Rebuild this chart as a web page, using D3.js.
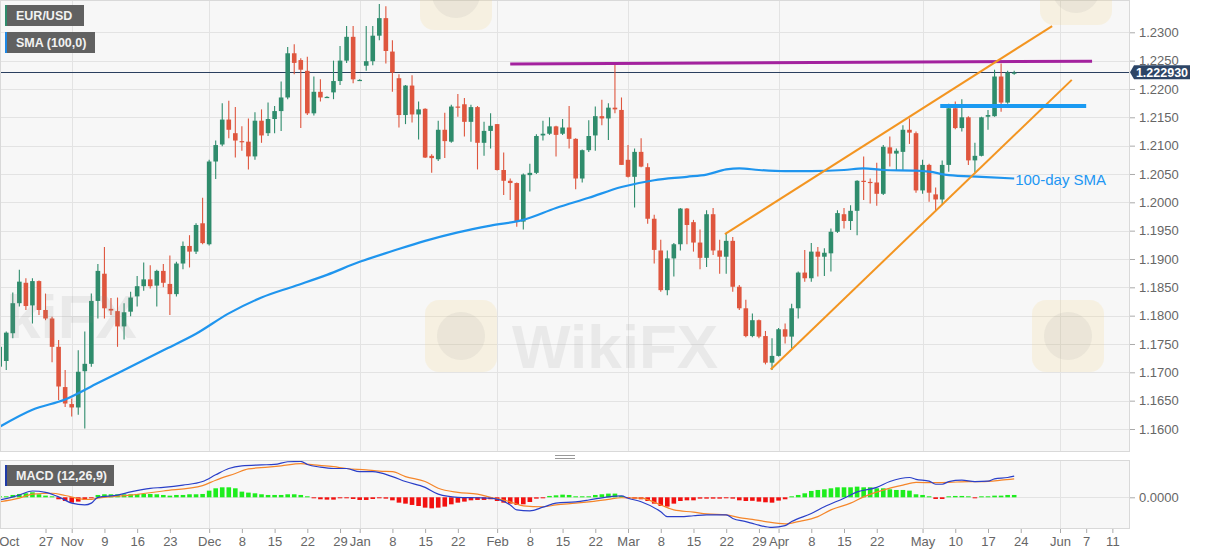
<!DOCTYPE html>
<html><head><meta charset="utf-8">
<script src="https://cdn.jsdelivr.net/npm/d3@7"></script>
<style>
body{margin:0;background:#fff;}
svg{display:block;font-family:"Liberation Sans",Arial,sans-serif;}
</style>
</head><body>
<svg id="c" width="1207" height="555"></svg>
<script>
// ---------------- DATA ----------------
// trading-day index of the first candle (0 = 2 Nov 2020)
const firstDay = -11;
// [open, high, low, close] per trading day
const ohlc = [
[1.1710,1.1748,1.1695,1.1745],[1.1720,1.1772,1.1704,1.1770],[1.1769,1.1841,1.1760,1.1822],[1.1822,1.1881,1.1816,1.1860],
[1.1858,1.1866,1.1810,1.1817],[1.1818,1.1866,1.1786,1.1861],[1.1861,1.1862,1.1801,1.1810],[1.1810,1.1839,1.1792,1.1795],
[1.1795,1.1798,1.1718,1.1745],[1.1745,1.1757,1.1651,1.1675],[1.1674,1.1704,1.1639,1.1645],
[1.1644,1.1654,1.1622,1.1638],[1.1638,1.1739,1.1625,1.1701],[1.1702,1.1772,1.1601,1.1715],[1.1715,1.1839,1.1710,1.1826],
[1.1826,1.1891,1.1795,1.1879],[1.1874,1.1921,1.1795,1.1813],[1.1812,1.1831,1.1801,1.1809],[1.1808,1.1832,1.1745,1.1781],
[1.1781,1.1822,1.1758,1.1806],[1.1807,1.1842,1.1799,1.1832],[1.1834,1.1870,1.1816,1.1852],[1.1852,1.1894,1.1844,1.1864],
[1.1864,1.1889,1.1848,1.1852],[1.1853,1.1881,1.1816,1.1879],[1.1879,1.1891,1.1850,1.1858],[1.1856,1.1906,1.1801,1.1838],
[1.1838,1.1895,1.1834,1.1892],[1.1892,1.1931,1.1882,1.1923],[1.1923,1.1942,1.1885,1.1913],[1.1913,1.1963,1.1909,1.1960],
[1.1963,1.2008,1.1926,1.1928],[1.1926,1.2075,1.1924,1.2072],[1.2072,1.2109,1.2041,1.2101],[1.2102,1.2175,1.2099,1.2146],
[1.2146,1.2179,1.2113,1.2128],[1.2122,1.2168,1.2079,1.2109],[1.2108,1.2134,1.2091,1.2106],[1.2107,1.2148,1.2058,1.2081],
[1.2081,1.2159,1.2075,1.2144],[1.2144,1.2164,1.2105,1.2118],[1.2122,1.2176,1.2117,1.2147],[1.2147,1.2170,1.2122,1.2161],
[1.2161,1.2213,1.2126,1.2185],[1.2185,1.2274,1.2182,1.2263],[1.2263,1.2279,1.2226,1.2246],[1.2251,1.2254,1.2131,1.2234],
[1.2232,1.2257,1.2154,1.2157],[1.2157,1.2222,1.2153,1.2195],[1.2195,1.2217,1.2178,1.2185],[1.2185,1.2187,1.2185,1.2186],
[1.2194,1.2250,1.2182,1.2214],[1.2214,1.2276,1.2207,1.2250],[1.2250,1.2311,1.2246,1.2292],[1.2292,1.2311,1.2210,1.2217],
[1.2216,1.2217,1.2215,1.2216],[1.2241,1.2311,1.2232,1.2249],[1.2249,1.2311,1.2242,1.2294],[1.2294,1.2350,1.2286,1.2325],
[1.2325,1.2346,1.2245,1.2267],[1.2266,1.2286,1.2195,1.2229],[1.2219,1.2226,1.2132,1.2154],[1.2154,1.2207,1.2138,1.2206],
[1.2206,1.2224,1.2141,1.2155],[1.2155,1.2178,1.2111,1.2164],[1.2165,1.2166,1.2078,1.2079],[1.2082,1.2085,1.2052,1.2078],
[1.2076,1.2144,1.2073,1.2128],[1.2128,1.2158,1.2078,1.2108],[1.2107,1.2172,1.2105,1.2169],[1.2169,1.2191,1.2151,1.2167],
[1.2173,1.2184,1.2116,1.2142],[1.2142,1.2172,1.2107,1.2168],[1.2168,1.2170,1.2058,1.2105],[1.2105,1.2142,1.2082,1.2126],
[1.2126,1.2157,1.2095,1.2135],[1.2138,1.2138,1.2056,1.2057],[1.2057,1.2088,1.2013,1.2038],[1.2038,1.2042,1.2004,1.2034],
[1.2034,1.2035,1.1957,1.1966],[1.1966,1.2051,1.1952,1.2049],[1.2048,1.2068,1.2019,1.2052],[1.2052,1.2120,1.2050,1.2117],
[1.2118,1.2144,1.2109,1.2121],[1.2121,1.2150,1.2119,1.2134],[1.2134,1.2135,1.2081,1.2119],[1.2121,1.2147,1.2119,1.2132],
[1.2132,1.2170,1.2095,1.2112],[1.2112,1.2113,1.2023,1.2042],[1.2042,1.2093,1.2035,1.2092],[1.2092,1.2145,1.2089,1.2117],
[1.2118,1.2169,1.2091,1.2152],[1.2152,1.2181,1.2136,1.2148],[1.2148,1.2175,1.2110,1.2167],[1.2167,1.2244,1.2157,1.2164],
[1.2163,1.2185,1.2066,1.2066],[1.2075,1.2101,1.2044,1.2045],[1.2045,1.2095,1.1991,1.2089],[1.2089,1.2113,1.2062,1.2063],
[1.2062,1.2069,1.1962,1.1971],[1.1971,1.1978,1.1892,1.1916],[1.1915,1.1934,1.1842,1.1845],[1.1845,1.1915,1.1836,1.1901],
[1.1901,1.1928,1.1869,1.1926],[1.1926,1.1990,1.1915,1.1989],[1.1989,1.1990,1.1926,1.1960],[1.1965,1.1969,1.1913,1.1929],
[1.1929,1.1952,1.1882,1.1902],[1.1902,1.1986,1.1886,1.1979],[1.1979,1.1990,1.1907,1.1915],[1.1915,1.1934,1.1874,1.1904],
[1.1904,1.1945,1.1874,1.1932],[1.1932,1.1939,1.1842,1.1851],[1.1851,1.1854,1.1810,1.1813],[1.1813,1.1828,1.1762,1.1764],
[1.1764,1.1804,1.1762,1.1792],[1.1792,1.1793,1.1760,1.1763],[1.1764,1.1773,1.1714,1.1717],[1.1717,1.1760,1.1704,1.1729],
[1.1729,1.1778,1.1728,1.1776],[1.1776,1.1786,1.1751,1.1763],[1.1763,1.1821,1.1742,1.1813],[1.1813,1.1878,1.1795,1.1876],
[1.1876,1.1916,1.1860,1.1866],[1.1866,1.1928,1.1860,1.1913],[1.1913,1.1921,1.1869,1.1904],[1.1904,1.1919,1.1870,1.1911],
[1.1910,1.1954,1.1878,1.1948],[1.1948,1.1986,1.1946,1.1981],[1.1979,1.1990,1.1954,1.1967],[1.1967,1.1995,1.1951,1.1985],
[1.1985,1.2039,1.1942,1.2038],[1.2038,1.2081,1.2004,1.2036],[1.2036,1.2042,1.1998,1.2035],[1.2035,1.2070,1.1994,1.2015],
[1.2015,1.2101,1.2013,1.2098],[1.2097,1.2116,1.2063,1.2086],[1.2086,1.2095,1.2057,1.2091],[1.2089,1.2136,1.2057,1.2128],
[1.2128,1.2148,1.2103,1.2123],[1.2122,1.2125,1.2017,1.2021],[1.2021,1.2075,1.2015,1.2066],[1.2066,1.2068,1.2001,1.2017],
[1.2014,1.2026,1.1986,1.2005],[1.2005,1.2074,1.1997,1.2066],[1.2066,1.2174,1.2054,1.2166],[1.2166,1.2178,1.2129,1.2131],
[1.2131,1.2182,1.2125,1.2150],[1.2150,1.2152,1.2066,1.2074],[1.2074,1.2105,1.2053,1.2082],[1.2082,1.2151,1.2081,1.2150],
[1.2151,1.2163,1.2128,1.2154],[1.2152,1.2234,1.2151,1.2222],[1.2222,1.2245,1.2160,1.2176],[1.2176,1.2232,1.2174,1.2229],
[1.2228,1.2232,1.2225,1.2229]
];
// 100-day SMA, [trading-day index, value]
const sma100 = [
[-11,1.1604],[-6,1.1634],[-1,1.1652],[4,1.1681],[9,1.1710],[14,1.1739],[19,1.1768],[24,1.1804],[29,1.1832],
[34,1.1852],[39,1.1872],[44,1.1895],[49,1.1914],[54,1.1932],[59,1.1947],[64,1.1959],[69,1.1969],[74,1.1990],
[79,1.2008],[84,1.2027],[89,1.2039],[94,1.2045],[97,1.2049],[100,1.2058],[102,1.2060],[105,1.2057],[109,1.2055],
[113,1.2055],[118,1.2057],[121,1.2060],[124,1.2057],[129,1.2056],[131,1.2054],[134,1.2048],[139,1.2045],[144,1.2042]
];
// MACD (12,26,9) in pips (1e-4), [trading-day index, value]
const macdLine = [
[-11,-6],[-8,5],[-6,14],[-4,11],[-2,1],[0,-13],[2,-17],[3,-13],[4,0],[7,5],[9,12],[12,20],[14,22],[17,27],[20,35],
[22,50],[24,64],[26,70],[29,72],[31,73],[33,79],[35,80],[36,73],[38,67],[40,64],[42,64],[44,57],[46,57],[49,46],
[51,35],[54,22],[56,7],[59,0],[62,-1],[64,-2],[67,-17],[68,-28],[70,-30],[72,-22],[74,-13],[77,-10],[79,-6],[82,1],
[84,3],[85,-2],[87,-10],[90,-32],[91,-43],[93,-43],[95,-41],[97,-39],[100,-39],[101,-47],[103,-54],[104,-58],
[105,-62],[107,-67],[109,-63],[110,-54],[113,-36],[115,-21],[118,-2],[120,12],[123,22],[125,35],[128,44],[129,40],
[131,36],[132,29],[133,29],[134,35],[136,38],[138,35],[140,36],[141,41],[143,44],[144,47]
];
const signalLine = [
[-11,-10],[-8,-2],[-6,7],[-3,9],[-1,4],[2,-4.5],[3,-4.5],[4,-2],[9,5],[14,14],[20,26],[22,38],[25,53],[27,63],
[30,67],[32,70],[35,75],[37,72],[40,68],[42,64],[45,61],[47,58],[49,57],[51,46],[54,35],[56,20],[59,11],[62,7],
[64,0],[67,-10],[69,-19],[72,-21],[74,-17],[77,-13],[79,-10],[82,-4.5],[84,-1],[87,-2],[90,-17],[92,-28],[95,-33],
[97,-37],[100,-39],[102,-45],[104,-49],[106,-54],[109,-59],[111,-54],[114,-43],[116,-28],[119,-13],[121,1],[124,16],
[127,27],[129,33],[132,32.5],[134,33],[137,35],[139,35],[142,38],[144,41]
];
// MACD histogram in pips, one value per candle
const macdHist = [
1,1.5,5.2,7.4,8.9,11.1,6.7,3.7,0.7,-4.4,
-8.2,-11.9,-9.6,-5.9,-0.7,5.2,6.7,6.7,6.7,6.7,
6.7,7.4,7.4,7.4,6.7,5.2,3.7,5.2,5.2,6.7,
6.7,7.4,14.8,20,22.2,22.2,20,12.6,10.4,8.9,
6.7,5.2,5.2,5.2,6.7,6.7,5.2,0.3,-0.7,-4.4,
-5.2,-5.2,-2.2,-2.2,-3.7,-5.9,-5.9,-3.7,-2.2,-3,
-6.7,-11.9,-14.1,-17,-19.3,-23,-24.5,-23,-20.7,-15.6,
-11.9,-9.6,-6.7,-5.9,-5.9,-4.4,-8.2,-11.9,-14.1,-17,
-15.6,-10.4,-3,-0.5,3,4.4,5.9,5.2,1.5,1.5,
2.2,5.2,6.7,8.2,8.2,3,-0.3,-3,-4.4,-8.2,
-14.1,-19.3,-20.7,-14.1,-8.2,-6.7,-6.7,-3,-3,-3,
-3,-2.2,-3,-6.7,-8.2,-7.8,-9.6,-11.1,-11.9,-7.4,
-4.4,0.3,5.2,8.9,14.1,16.3,17.8,20,22.2,22.2,
22.2,23.7,22.2,22.2,20,20,17.8,16.3,16.3,14.8,
6.7,5.2,0.3,-3.7,-3.7,1.5,3,3,0.7,-0.7,
0.7,0.7,3.7,3.7,5.2,5.2
];
// annotations, [trading-day index, price]
const wedgeUpper = [[99.8,1.1944],[149.8,1.2311]];
const wedgeLower = [[106.8,1.1705],[152.8,1.2216]];
const resistance = [[67.0,1.2244],[155.9,1.2249]];
const support = [[132.7,1.2170],[155.0,1.2170]];
const lastPrice = 1.222930;
// axis ticks
const priceTicks = [1.16,1.165,1.17,1.175,1.18,1.185,1.19,1.195,1.20,1.205,1.21,1.215,1.22,1.225,1.23];
const dateTickIdx = [-9.6,-4,0,5,10,15,21,26,31,36,41,44,49,54,59,65,70,75,80,85,90,95,100,105,108,113,118,123,130,135,140,145,151,155,159];
const dateTickLbl = ["Oct","27","Nov","9","16","23","Dec","8","15","22","29","Jan","8","15","22","Feb","8","15","22","Mar","8","15","22","29","Apr","8","15","22","May","10","17","24","Jun","7","11"];
const monthStarts = [0,21,44,65,85,108,130,151];
const macdTicks = [0];

// ---------------- LAYOUT ----------------
const svg = d3.select("#c");
const L = 0, R = 1130;
const mainTop = 0, mainBot = 452;
const mTop = 460, mBot = 529;

const x = d3.scaleLinear().domain([0,151]).range([71.7,1060]);
const y = d3.scaleLinear().domain([1.16,1.23]).range([429,32.3]);
const ym = d3.scaleLinear().domain([-70,80]).range([528.8,461.3]);

const GREEN="#2f8c6c", RED="#df563e";

// backgrounds
svg.append("rect").attr("x",0).attr("y",0).attr("width",1207).attr("height",555).attr("fill","#fff");
svg.append("rect").attr("x",L).attr("y",mainTop).attr("width",R-L).attr("height",mainBot-mainTop).attr("fill","#f7f7f7");
svg.append("rect").attr("x",L).attr("y",mTop).attr("width",R-L).attr("height",mBot-mTop).attr("fill","#f7f7f7");

svg.append("clipPath").attr("id","cm").append("rect").attr("x",L).attr("y",mainTop).attr("width",R-L).attr("height",mainBot-mainTop);
svg.append("clipPath").attr("id","cd").append("rect").attr("x",L).attr("y",mTop).attr("width",R-L).attr("height",mBot-mTop);

const gMain = svg.append("g").attr("clip-path","url(#cm)");
const gMacd = svg.append("g").attr("clip-path","url(#cd)");

// grid
gMain.selectAll(".hg").data(priceTicks).enter().append("line")
  .attr("x1",L).attr("x2",R).attr("y1",d=>Math.round(y(d))+0.5).attr("y2",d=>Math.round(y(d))+0.5)
  .attr("stroke","#e3e3e3");
gMain.selectAll(".vg").data(monthStarts).enter().append("line")
  .attr("x1",d=>Math.round(x(d))+0.5).attr("x2",d=>Math.round(x(d))+0.5).attr("y1",mainTop).attr("y2",mainBot)
  .attr("stroke","#e3e3e3");
gMacd.selectAll(".vg").data(monthStarts).enter().append("line")
  .attr("x1",d=>Math.round(x(d))+0.5).attr("x2",d=>Math.round(x(d))+0.5).attr("y1",mTop).attr("y2",mBot)
  .attr("stroke","#e3e3e3");
gMacd.selectAll(".hg").data(macdTicks).enter().append("line")
  .attr("x1",L).attr("x2",R).attr("y1",d=>Math.round(ym(d))+0.5).attr("y2",d=>Math.round(ym(d))+0.5)
  .attr("stroke","#e3e3e3");

// last price line
gMain.append("line").attr("x1",L).attr("x2",R)
  .attr("y1",Math.round(y(lastPrice))+0.5).attr("y2",Math.round(y(lastPrice))+0.5)
  .attr("stroke","#2a3f5f").attr("stroke-width",1);

// candles
const candles = ohlc.map((d,i)=>({i:firstDay+i,o:d[0],h:d[1],l:d[2],c:d[3]}));
const bw = 4.6;
const cg = gMain.selectAll(".cd").data(candles).enter().append("g");
cg.append("line")
  .attr("x1",d=>x(d.i)).attr("x2",d=>x(d.i))
  .attr("y1",d=>y(d.h)).attr("y2",d=>y(d.l))
  .attr("stroke",d=>d.c>=d.o?GREEN:RED).attr("stroke-width",1.1);
cg.append("rect")
  .attr("x",d=>x(d.i)-bw/2).attr("width",bw)
  .attr("y",d=>y(Math.max(d.o,d.c)))
  .attr("height",d=>Math.max(1.2,Math.abs(y(d.o)-y(d.c))))
  .attr("fill",d=>d.c>=d.o?GREEN:RED);

// SMA
const line = d3.line().x(d=>x(d[0])).y(d=>y(d[1])).curve(d3.curveMonotoneX);
gMain.append("path").attr("d",line(sma100)).attr("fill","none").attr("stroke","#1f95ee").attr("stroke-width",2.2);

// annotations
const segs = [
  {d:resistance, c:"#a3229e", w:3},
  {d:wedgeUpper, c:"#f39521", w:2},
  {d:wedgeLower, c:"#f39521", w:2},
  {d:support, c:"#1a9af2", w:4}
];
const sl = d3.line().x(d=>x(d[0])).y(d=>y(d[1]));
segs.forEach(s=>{
  gMain.append("path").attr("d",sl(s.d)).attr("fill","none").attr("stroke",s.c).attr("stroke-width",s.w);
});

svg.append("text").attr("x",x(144)+1).attr("y",y(1.2042)+6)
  .attr("fill","#2196f3").attr("font-size",15).text("100-day SMA");

// MACD histogram
const hist = macdHist.map((v,i)=>({i:firstDay+i,v}));
const hw = 4.6;
gMacd.selectAll(".hb").data(hist).enter().append("rect")
  .attr("x",d=>x(d.i)-hw/2).attr("width",hw)
  .attr("y",d=>d.v>=0?Math.min(ym(d.v),ym(0)-1):ym(0))
  .attr("height",d=>Math.max(1,Math.abs(ym(d.v)-ym(0))))
  .attr("fill",d=>d.v>=0?"#1ded1d":"#f2100f");

const ml = d3.line().x(d=>x(d[0])).y(d=>ym(d[1])).curve(d3.curveMonotoneX);
gMacd.append("path").attr("d",ml(signalLine)).attr("fill","none").attr("stroke","#f5862a").attr("stroke-width",1.2);
gMacd.append("path").attr("d",ml(macdLine)).attr("fill","none").attr("stroke","#2a3fc8").attr("stroke-width",1.2);

// panel borders
svg.append("rect").attr("x",L+0.5).attr("y",mainTop+0.5).attr("width",R-L-1).attr("height",mainBot-mainTop-1)
  .attr("fill","none").attr("stroke","#d9d9d9");
svg.append("rect").attr("x",L+0.5).attr("y",mTop+0.5).attr("width",R-L-1).attr("height",mBot-mTop-1)
  .attr("fill","none").attr("stroke","#d9d9d9");
// separator handle
[455.5,458.5].forEach(v=>svg.append("line").attr("x1",555).attr("x2",575).attr("y1",v).attr("y2",v).attr("stroke","#999").attr("stroke-width",1));

// axes
const ay = d3.axisRight(y).tickValues(priceTicks).tickFormat(d3.format(".4f")).tickSize(5).tickPadding(4);
const gy = svg.append("g").attr("transform",`translate(${R},0)`).call(ay);
const aym = d3.axisRight(ym).tickValues(macdTicks).tickFormat(d3.format(".4f")).tickSize(5).tickPadding(4);
const gym = svg.append("g").attr("transform",`translate(${R},0)`).call(aym);
const ax = d3.axisBottom(x).tickValues(dateTickIdx).tickFormat((d,i)=>dateTickLbl[i]).tickSize(4).tickPadding(4);
const gx = svg.append("g").attr("transform",`translate(0,${mBot})`).call(ax);
[gy,gym,gx].forEach(g=>{
  g.select(".domain").remove();
  g.selectAll(".tick line").attr("stroke","#aaa");
  g.selectAll(".tick text").attr("fill","#666").attr("font-size",13).attr("font-family","Liberation Sans, Arial, sans-serif");
});
gx.selectAll(".tick").filter((d,i)=>dateTickLbl[i]==="Oct").select("line").remove();

// last price tag
const ty = y(lastPrice);
svg.append("path").attr("d",`M${R},${ty} L${R+4},${ty-7} L${R+60},${ty-7} L${R+60},${ty+7} L${R+4},${ty+7} Z`).attr("fill","#2d4566");
svg.append("text").attr("x",R+32).attr("y",ty+4.5).attr("text-anchor","middle")
  .attr("fill","#fff").attr("font-size",12.5).attr("font-weight","bold").text(d3.format(".6f")(lastPrice));

// legend boxes
function tag(x0,y0,w,stripe,label){
  svg.append("rect").attr("x",x0).attr("y",y0).attr("width",w).attr("height",21).attr("fill","#616161");
  svg.append("rect").attr("x",x0).attr("y",y0).attr("width",2).attr("height",21).attr("fill",stripe);
  svg.append("text").attr("x",x0+11).attr("y",y0+15).attr("fill","#f2f2f2").attr("font-size",12.5).attr("font-weight","bold").text(label);
}
tag(5,5,79,"#2f8c6c","EUR/USD");
tag(5,32,90,"#1e88e5","SMA (100,0)");
tag(5,465,109,"#1f3aa8","MACD (12,26,9)");

// watermarks (faint, visible parts only)
const wm = svg.append("g").attr("pointer-events","none");
[[425,300],[1032,300],[420,-42],[1040,-47]].forEach(p=>{
  wm.append("rect").attr("x",p[0]).attr("y",p[1]).attr("width",72).attr("height",72).attr("rx",14)
    .attr("fill","#f3d98a").attr("opacity",0.2);
  wm.append("circle").attr("cx",p[0]+36).attr("cy",p[1]+36).attr("r",24).attr("fill","#888").attr("opacity",0.1);
});
[[6,338,"kiFX"],[512,368,"WikiFX"]].forEach(p=>{
  wm.append("text").attr("x",p[0]).attr("y",p[1])
    .attr("font-size",62).attr("font-weight","bold").attr("fill","#8a8a8a").attr("opacity",0.12).text(p[2]);
});
</script>
</body></html>
